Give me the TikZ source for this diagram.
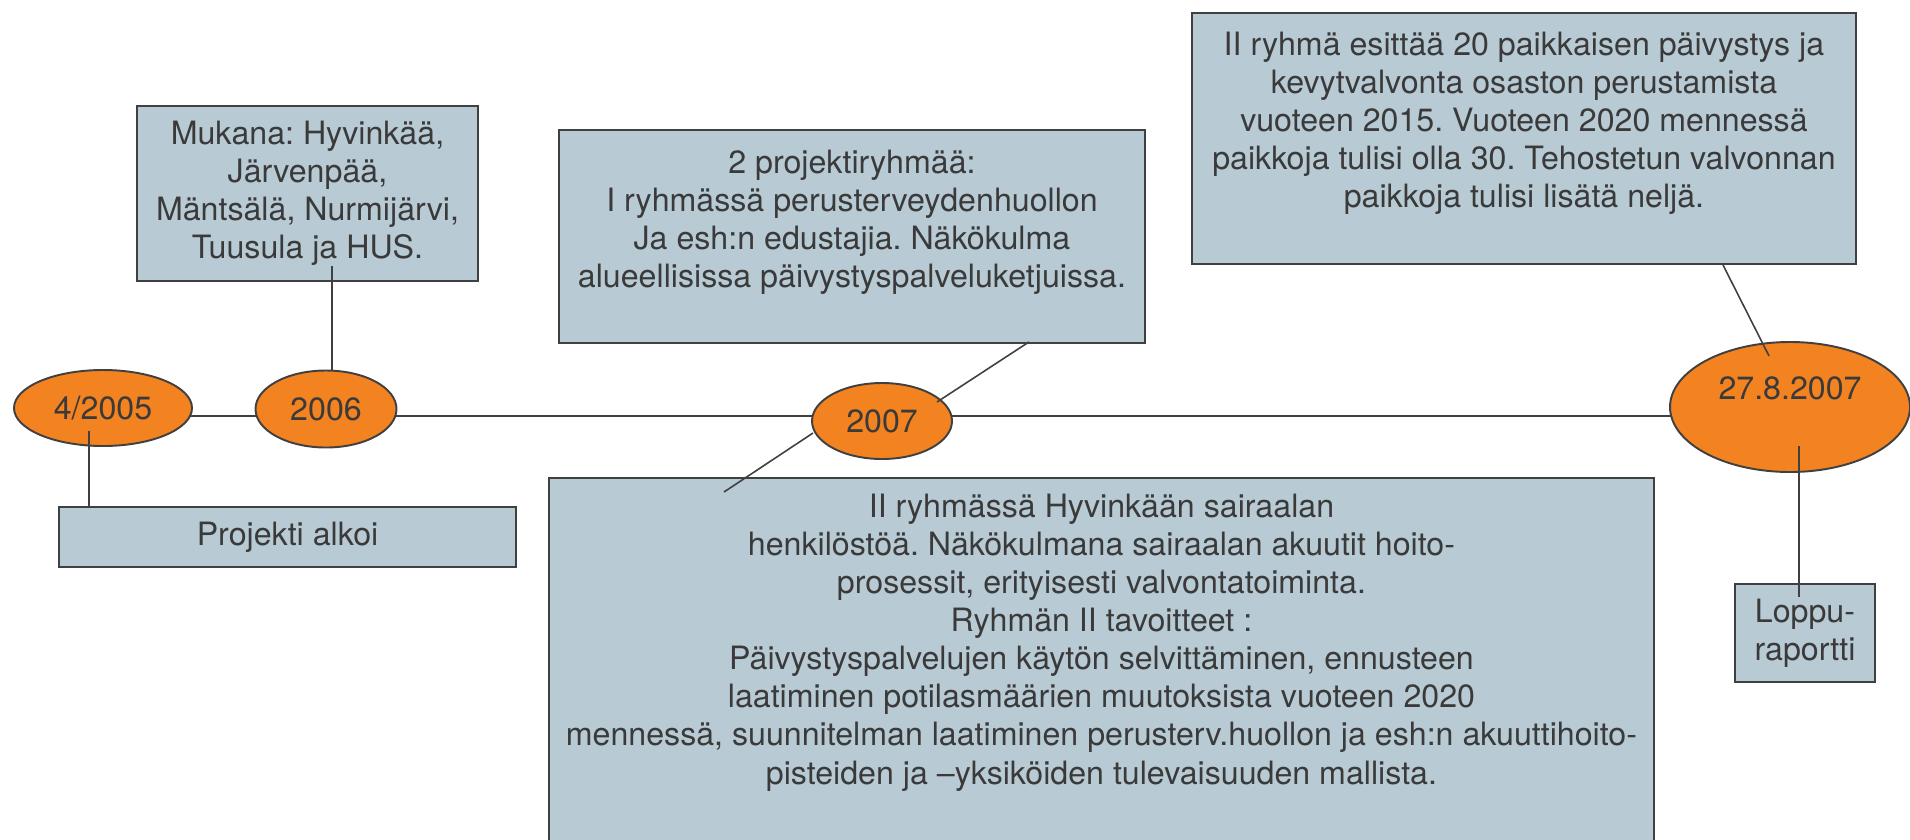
\documentclass[tikz,border=0pt]{standalone}
\usepackage{fontspec}
\setmainfont{TeX Gyre Heros}
\frenchspacing
\usetikzlibrary{shapes,positioning,calc,backgrounds}
\definecolor{boxfill}{RGB}{184,202,212}
\definecolor{datefill}{RGB}{243,130,33}
\definecolor{edge}{RGB}{64,64,64}
\definecolor{ink}{RGB}{58,58,58}

\begin{document}
\begin{tikzpicture}[x=0.1mm, y=-0.1mm,
    box/.style={draw=edge, line width=0.55pt, fill=boxfill, inner sep=0pt},
    txt/.style={text=ink, align=center, inner sep=0pt, font={\fontsize{9.15}{10.85}\selectfont}},
    date/.style={ellipse, draw=edge, line width=0.55pt, fill=datefill, text=ink, align=center, inner sep=0pt, font={\fontsize{9.15}{10.85}\selectfont}},
    conn/.style={draw=edge, line width=0.45pt}]
    \useasboundingbox (0,0) rectangle (1910,839);

    % aikajana
    \node[date, minimum width=17.8mm, minimum height=7.6mm] (e1) at (103,408) {4/2005};
    \node[date, minimum width=14.1mm, minimum height=7.7mm] (e2) at (326,409) {2006};
    \node[date, minimum width=14.0mm, minimum height=7.6mm] (e3) at (882,421) {2007};
    \node[date, minimum width=24.0mm, minimum height=13.0mm] (e4) at (1790,407) {27.8.2007\\\mbox{}};
    \coordinate (tl) at (0,416);
    \begin{scope}[on background layer]
        \draw[conn] (e1 |- tl) -- (e2 |- tl) -- (e3 |- tl) -- (e4 |- tl);
    \end{scope}

    \node[box, txt, minimum width=34.1mm, minimum height=17.5mm] (m) at (307.5,193.5) {Mukana: Hyvinkää,\\Järvenpää,\\Mäntsälä, Nurmijärvi,\\Tuusula ja HUS.};
    \node[box, txt, minimum width=45.7mm, minimum height=6.0mm] (p) at (287.5,537) {Projekti alkoi};
    \node[box, txt, minimum width=14.0mm, minimum height=9.8mm] (l) at (1805,633) {Loppu-\\raportti};

    \node[box, anchor=north west, minimum width=58.6mm, minimum height=21.3mm] (g1) at (558,129) {};
    \node[txt, below=2.0mm of g1.north] (g1t) {2 projektiryhmää:\\I ryhmässä perusterveydenhuollon\\Ja esh:n edustajia. Näkökulma\\alueellisissa päivystyspalveluketjuissa.};

    \node[box, anchor=north west, minimum width=110.5mm, minimum height=38.3mm] (g2) at (548,477) {};
    \node[txt, below=1.6mm of g2.north] (g2t) {II ryhmässä Hyvinkään sairaalan\\henkilöstöä. Näkökulmana sairaalan akuutit hoito-\\prosessit, erityisesti valvontatoiminta.\\Ryhmän II tavoitteet :\\Päivystyspalvelujen käytön selvittäminen, ennusteen\\laatiminen potilasmäärien muutoksista vuoteen 2020\\mennessä, suunnitelman laatiminen perusterv.huollon ja esh:n akuuttihoito-\\pisteiden ja –yksiköiden tulevaisuuden mallista.};

    \node[box, anchor=north west, minimum width=66.4mm, minimum height=25.1mm] (g3) at (1191,12) {};
    \node[txt, below=1.9mm of g3.north] (g3t) {II ryhmä esittää 20 paikkaisen päivystys ja\\kevytvalvonta osaston perustamista\\vuoteen 2015. Vuoteen 2020 mennessä\\paikkoja tulisi olla 30. Tehostetun valvonnan\\paikkoja tulisi lisätä neljä.};

    \coordinate (c1) at ($(e1)+(-14,23)$);
    \draw[conn] (c1) -- (c1 |- p.north);
    \coordinate (c2) at ($(m.south)+(24.5,-16)$);
    \draw[conn] (c2) -- (c2 |- e2.north);
    \draw[conn] ($(g1.south)+(177,-2)$) -- ($(e3)+(55,-19)$);
    \draw[conn] ($(e3)+(-69,12)$) -- ($(g2.north west)+(176,15)$);
    \draw[conn] ($(g3.south)+(199,0)$) -- ($(e4)+(-21,-51)$);
    \coordinate (c4) at ($(e4)+(9,39)$);
    \draw[conn] (c4) -- ($(c4 |- l.north)+(0,14)$);
\end{tikzpicture}
\end{document}
